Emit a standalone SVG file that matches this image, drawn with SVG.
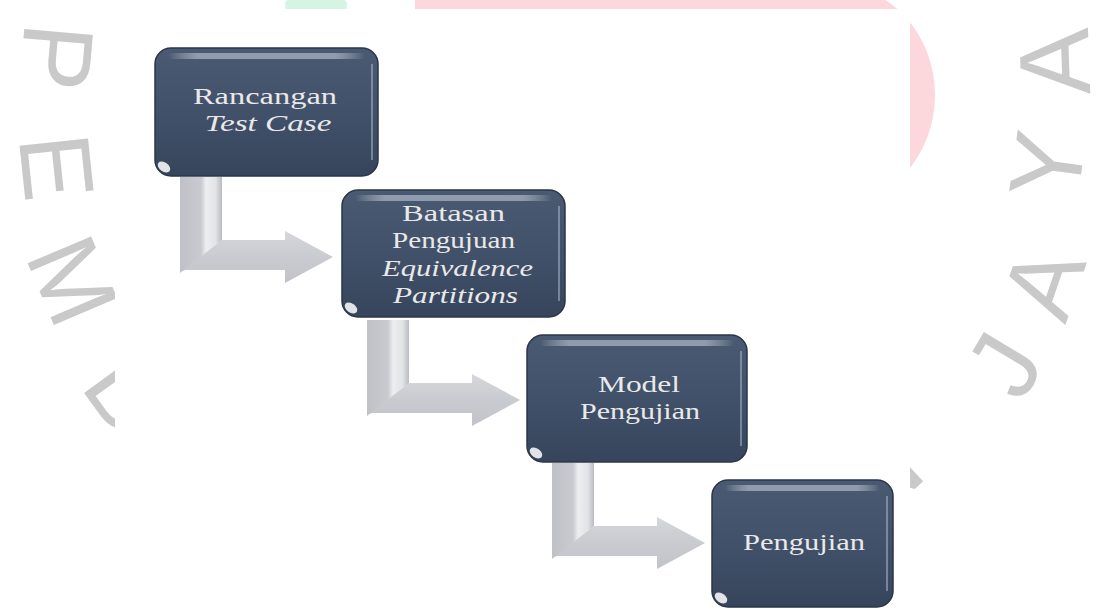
<svg xmlns="http://www.w3.org/2000/svg" width="1110" height="613" viewBox="0 0 1110 613">
  <style>
    .wm { font-family: "Liberation Sans", "DejaVu Sans", sans-serif; font-size: 100px; fill: #c9c9c9; text-anchor: middle; }
    .box { fill: url(#boxGrad); stroke: #2b3647; stroke-width: 1.5; }
    .hi { fill: url(#hiGrad); }
    .rhi { stroke: #a9b7c9; stroke-width: 2; stroke-opacity: 0.55; fill: none; }
    .glare { fill: #ffffff; fill-opacity: 0.85; }
    .lbl { font-family: "Liberation Serif", "Times New Roman", serif; font-size: 24px; fill: #e9e9e9; text-anchor: middle; }
    .it { font-style: italic; }
  </style>
  <defs>
    <linearGradient id="boxGrad" x1="0" y1="0" x2="0" y2="1">
      <stop offset="0" stop-color="#4a5a72"/>
      <stop offset="0.5" stop-color="#415169"/>
      <stop offset="1" stop-color="#36455c"/>
    </linearGradient>
    <linearGradient id="hiGrad" x1="0" y1="0" x2="1" y2="0">
      <stop offset="0" stop-color="#ffffff" stop-opacity="0"/>
      <stop offset="0.15" stop-color="#c9d3e0" stop-opacity="0.55"/>
      <stop offset="0.85" stop-color="#c9d3e0" stop-opacity="0.55"/>
      <stop offset="1" stop-color="#ffffff" stop-opacity="0"/>
    </linearGradient>
    <linearGradient id="vbarGrad" x1="0" y1="0" x2="1" y2="0">
      <stop offset="0" stop-color="#bfc1c7"/>
      <stop offset="0.5" stop-color="#c8cad0"/>
      <stop offset="0.62" stop-color="#eeeef1"/>
      <stop offset="0.85" stop-color="#e2e3e7"/>
      <stop offset="1" stop-color="#b9bbc2"/>
    </linearGradient>
    <linearGradient id="hbarGrad" x1="0" y1="0" x2="0" y2="1">
      <stop offset="0" stop-color="#d6d7db"/>
      <stop offset="0.5" stop-color="#c9cbd0"/>
      <stop offset="1" stop-color="#c1c3c9"/>
    </linearGradient>
    <g id="bentArrow">
      <path d="M180,271 L222,240 H285 V231 L333,257 L285,283 V270 H186 Z" fill="url(#hbarGrad)"/>
      <path d="M180,177 H222 V240 L180,273 Z" fill="url(#vbarGrad)"/>
    </g>
  </defs>

  <g id="watermark">
    <rect x="285" y="0" width="62" height="10" rx="4" fill="#d6f4e4"/>
    <rect x="415" y="0" width="450" height="10" fill="#fcd8dc"/>
    <ellipse cx="835" cy="95" rx="100" ry="110" fill="#fcd8dc"/>
    <text class="wm" transform="translate(58,57) rotate(95)" x="0" y="36">P</text>
    <text class="wm" transform="translate(58,167) rotate(84)" x="0" y="36">E</text>
    <text class="wm" transform="translate(74,280) rotate(67)" x="0" y="36">M</text>
    <text class="wm" transform="translate(128,392) rotate(54)" x="0" y="36">B</text>
    <text class="wm" transform="translate(1053,62) rotate(-92)" x="0" y="36">A</text>
    <text class="wm" transform="translate(1046,165) rotate(-82)" x="0" y="36">Y</text>
    <text class="wm" transform="translate(1042,282) rotate(-71)" x="0" y="36">A</text>
    <text class="wm" transform="translate(1003,364) rotate(-59)" x="0" y="36">J</text>
    <text class="wm" transform="translate(878,474) rotate(-43)" x="0" y="36">N</text>
    <rect x="115" y="9" width="795" height="604" fill="#ffffff"/>
  </g>

  <g id="connectors">
    <use href="#bentArrow"/>
    <use href="#bentArrow" transform="translate(187,143)"/>
    <use href="#bentArrow" transform="translate(372,286)"/>
  </g>

  <g id="node-rancangan">
    <rect class="box" x="155" y="48" width="223" height="128" rx="16"/>
    <rect class="hi" x="168" y="53" width="197" height="6" rx="3"/>
    <path class="rhi" d="M372,64 V160"/>
    <ellipse class="glare" cx="164" cy="167" rx="7" ry="4.5" transform="rotate(35 164 167)"/>
    <text class="lbl" x="265" y="104" textLength="144" lengthAdjust="spacingAndGlyphs">Rancangan</text>
    <text class="lbl it" x="268" y="131" textLength="127" lengthAdjust="spacingAndGlyphs">Test Case</text>
  </g>

  <g id="node-batasan">
    <rect class="box" x="342" y="190" width="223" height="127" rx="16"/>
    <rect class="hi" x="355" y="195" width="197" height="6" rx="3"/>
    <path class="rhi" d="M559,206 V301"/>
    <ellipse class="glare" cx="351" cy="308" rx="7" ry="4.5" transform="rotate(35 351 308)"/>
    <text class="lbl" x="453.5" y="221" textLength="103" lengthAdjust="spacingAndGlyphs">Batasan</text>
    <text class="lbl" x="453.5" y="248" textLength="123" lengthAdjust="spacingAndGlyphs">Pengujuan</text>
    <text class="lbl it" x="457.5" y="276" textLength="151" lengthAdjust="spacingAndGlyphs">Equivalence</text>
    <text class="lbl it" x="455.5" y="303" textLength="125" lengthAdjust="spacingAndGlyphs">Partitions</text>
  </g>

  <g id="node-model">
    <rect class="box" x="527" y="335" width="220" height="127" rx="16"/>
    <rect class="hi" x="540" y="340" width="194" height="6" rx="3"/>
    <path class="rhi" d="M741,351 V446"/>
    <ellipse class="glare" cx="536" cy="453" rx="7" ry="4.5" transform="rotate(35 536 453)"/>
    <text class="lbl" x="639" y="392" textLength="82" lengthAdjust="spacingAndGlyphs">Model</text>
    <text class="lbl" x="640" y="419" textLength="120" lengthAdjust="spacingAndGlyphs">Pengujian</text>
  </g>

  <g id="node-pengujian">
    <rect class="box" x="712" y="480" width="181" height="127" rx="16"/>
    <rect class="hi" x="725" y="485" width="155" height="6" rx="3"/>
    <path class="rhi" d="M887,496 V591"/>
    <ellipse class="glare" cx="721" cy="598" rx="7" ry="4.5" transform="rotate(35 721 598)"/>
    <text class="lbl" x="804" y="550" textLength="122" lengthAdjust="spacingAndGlyphs">Pengujian</text>
  </g>
</svg>
